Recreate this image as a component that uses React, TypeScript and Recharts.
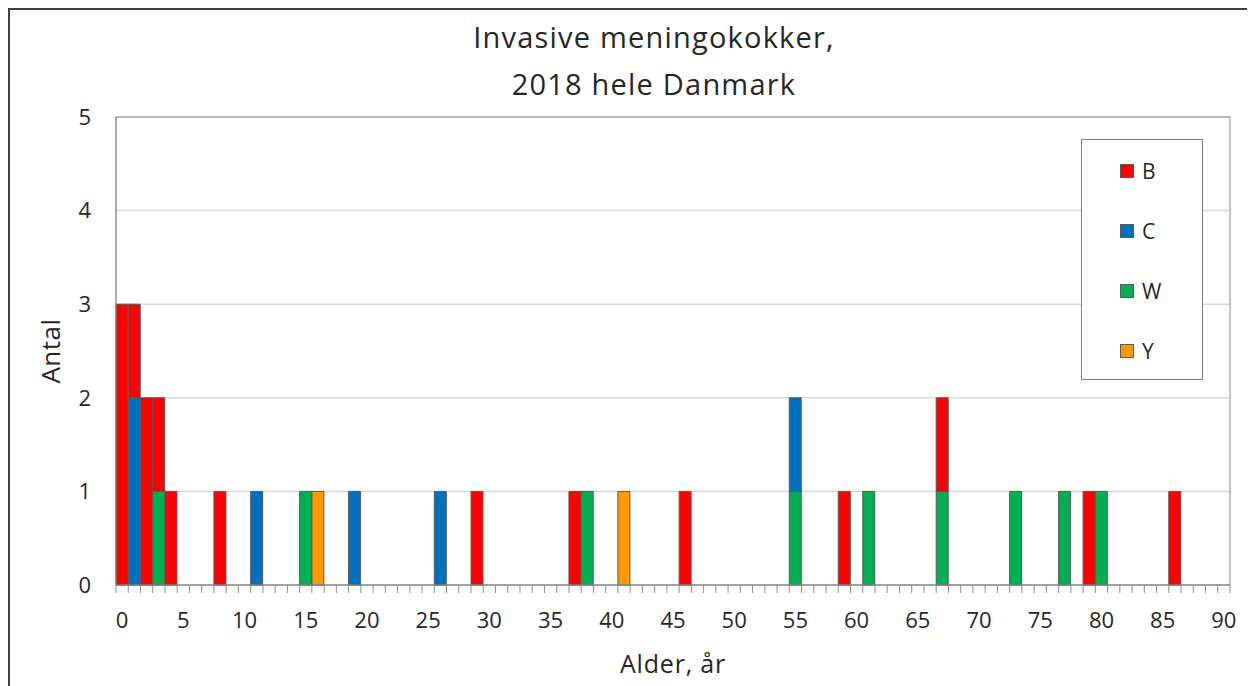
import { BarChart, Bar, XAxis, YAxis, CartesianGrid, Legend, ReferenceArea } from "recharts";

// alder 0..90 år
const ages: number[] = Array.from({ length: 91 }, (_, i) => i);

// antal tilfælde pr. alder, kun aldre med tilfælde
const serogroupB: Record<number, number> = {
  0: 3, 1: 1, 2: 2, 3: 1, 4: 1, 8: 1, 29: 1, 37: 1, 46: 1, 59: 1, 67: 1, 79: 1, 86: 1,
};
const serogroupC: Record<number, number> = { 1: 2, 11: 1, 19: 1, 26: 1, 55: 1 };
const serogroupW: Record<number, number> = {
  3: 1, 15: 1, 38: 1, 55: 1, 61: 1, 67: 1, 73: 1, 77: 1, 80: 1,
};
const serogroupY: Record<number, number> = { 16: 1, 41: 1 };

const yTicks = [0, 1, 2, 3, 4, 5];

const rows = ages.map((age) => ({
  age,
  Y: serogroupY[age] ?? 0,
  W: serogroupW[age] ?? 0,
  C: serogroupC[age] ?? 0,
  B: serogroupB[age] ?? 0,
}));

const FONT = "'Open Sans', 'Noto Sans', sans-serif";
const TEXT = "#262626";

function AgeTick(props: any) {
  const { x, y, payload, index, visibleTicksCount } = props;
  const half = payload.offset ?? 6.12;
  const left = x - half;
  return (
    <g>
      <line x1={left} x2={left} y1={y} y2={y + 8} stroke="#8c8c8c" strokeWidth={1} />
      {index === visibleTicksCount - 1 && (
        <line x1={x + half} x2={x + half} y1={y} y2={y + 8} stroke="#8c8c8c" strokeWidth={1} />
      )}
      {payload.value % 5 === 0 && (
        <text x={x} y={y + 43} textAnchor="middle" fontSize={22} fill={TEXT} fontFamily={FONT}>
          {payload.value}
        </text>
      )}
    </g>
  );
}

function LegendBox({ payload }: any) {
  const items = payload ?? [];
  return (
    <div
      style={{
        width: 122,
        height: 241,
        border: "1px solid #7f7f7f",
        boxSizing: "border-box",
        background: "#fff",
        position: "relative",
        fontFamily: FONT,
      }}
    >
      {items.map((item: any, i: number) => (
        <div
          key={item.value}
          style={{
            position: "absolute",
            left: 38,
            top: 18 + i * 60,
            display: "flex",
            alignItems: "center",
            height: 26,
          }}
        >
          <span
            style={{
              width: 14,
              height: 14,
              background: item.color,
              border: "1px solid #595959",
              boxSizing: "border-box",
              display: "inline-block",
            }}
          />
          <span style={{ marginLeft: 8, fontSize: 21, lineHeight: "26px", color: TEXT }}>{item.value}</span>
        </div>
      ))}
    </div>
  );
}

export default function App() {
  return (
    <div
      style={{
        position: "relative",
        width: 1245,
        height: 700,
        border: "2px solid #404040",
        boxSizing: "border-box",
        background: "#fff",
        fontFamily: FONT,
      }}
    >
      <div
        style={{
          position: "absolute",
          left: 0,
          width: 1288,
          top: 3,
          textAlign: "center",
          fontSize: 29,
          letterSpacing: 1.2,
          lineHeight: "47px",
          color: TEXT,
        }}
      >
        Invasive meningokokker,
        <br />
        2018 hele Danmark
      </div>
      <div
        style={{
          position: "absolute",
          left: 563,
          width: 200,
          top: 636,
          textAlign: "center",
          fontSize: 25,
          letterSpacing: 0.8,
          lineHeight: "34px",
          color: TEXT,
        }}
      >
        Alder, år
      </div>
      <div
        style={{
          position: "absolute",
          left: 40,
          top: 341,
          transform: "translate(-50%, -50%) rotate(-90deg)",
          fontSize: 26,
          letterSpacing: 0.5,
          color: TEXT,
          whiteSpace: "nowrap",
        }}
      >
        Antal
      </div>
      <div style={{ position: "absolute", left: 0, top: 0 }}>
        <BarChart
          width={1241}
          height={690}
          data={rows}
          barCategoryGap={0}
          margin={{ top: 107, right: 21, bottom: 55, left: 46 }}
        >
          <CartesianGrid vertical={false} stroke="#d9d9d9" strokeWidth={1.5} />
          <XAxis
            dataKey="age"
            interval={0}
            tickSize={0}
            tickMargin={0}
            tickLine={false}
            tick={<AgeTick />}
            height={60}
            axisLine={{ stroke: "#8c8c8c" }}
          />
          <YAxis
            domain={[0, 5]}
            ticks={yTicks}
            tickLine={false}
            width={60}
            tickMargin={19}
            axisLine={{ stroke: "#8c8c8c" }}
            tick={{ fontSize: 22, fill: TEXT, fontFamily: FONT }}
          />
          <ReferenceArea y1={0} y2={5} fill="none" stroke="#8c8c8c" strokeWidth={1} />
          <Legend
            layout="vertical"
            verticalAlign="middle"
            align="center"
            wrapperStyle={{ left: 1071, top: 129, width: 122, height: 241 }}
            content={<LegendBox />}
          />
          <Bar dataKey="Y" stackId="s" fill="#ff9900" stroke="#595959" strokeWidth={1} isAnimationActive={false} />
          <Bar dataKey="W" stackId="s" fill="#00b050" stroke="#595959" strokeWidth={1} isAnimationActive={false} />
          <Bar dataKey="C" stackId="s" fill="#0070c0" stroke="#595959" strokeWidth={1} isAnimationActive={false} />
          <Bar dataKey="B" stackId="s" fill="#ff0000" stroke="#595959" strokeWidth={1} isAnimationActive={false} />
        </BarChart>
      </div>
    </div>
  );
}
